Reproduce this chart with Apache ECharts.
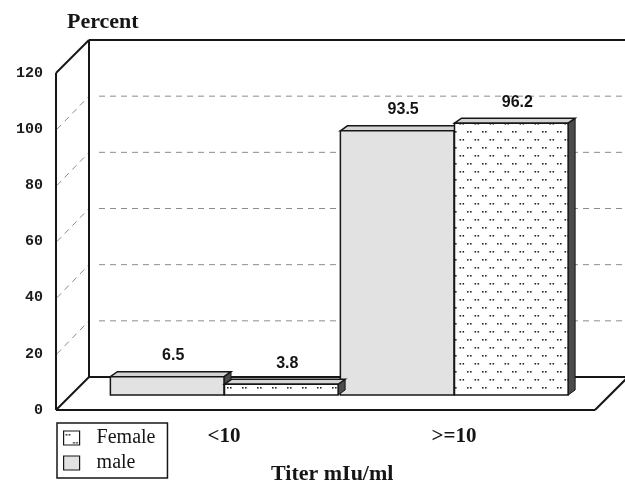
<!DOCTYPE html>
<html>
<head>
<meta charset="utf-8">
<script src="https://cdn.jsdelivr.net/npm/echarts@6/dist/echarts.min.js"></script>
<style>
  html, body { margin: 0; padding: 0; background: #fff; }
  #chart { width: 625px; height: 484px; }
</style>
</head>
<body>
<div id="chart"></div>
<script>
// Titer groups and the share of each sex (percent) in every group
const categories = ['<10', '>=10'];
const maleValues = [6.5, 93.5];
const femaleValues = [3.8, 96.2];
const yTicks = [0, 20, 40, 60, 80, 100, 120];

const yMin = yTicks[0];
const yMax = yTicks[yTicks.length - 1];
const yStep = yTicks[1] - yTicks[0];

// Dotted fill: staggered pairs of small dots
function makeDotPattern() {
  const c = document.createElement('canvas');
  c.width = 15; c.height = 16;
  const g = c.getContext('2d');
  g.fillStyle = '#fff';
  g.fillRect(0, 0, 15, 16);
  g.fillStyle = '#2a2a2a';
  [[2, 3], [5, 3], [9.5, 11], [12.5, 11]].forEach(p => g.fillRect(p[0], p[1], 1.6, 1.6));
  return c;
}
const dotFill = { image: makeDotPattern(), repeat: 'repeat' };
const greyFill = '#e2e2e2';

// Box walls: left wall, back wall, floor, with dashed grid lines
function renderFrame(params, api) {
  const depth = [33, -33];
  const back = p => [p[0] + depth[0], p[1] + depth[1]];
  const fl = api.coord([0, yMin]);
  const tl = api.coord([0, yMax]);
  const fr = api.coord([1, yMin]);
  const solid = { stroke: '#161616', lineWidth: 2, fill: null };
  const dashed = { stroke: '#8c8c8c', lineWidth: 1, lineDash: [6, 5], fill: null };
  const line = (a, b, style) => ({ type: 'line', shape: { x1: a[0], y1: a[1], x2: b[0], y2: b[1] }, style: style });
  const children = [];
  yTicks.slice(1, -1).forEach(v => {
    const f = api.coord([0, v]);
    const b = back(f);
    children.push(line([f[0] + 1, f[1]], b, dashed));
    children.push(line([b[0] + 10, b[1]], [back(fr)[0] + 5, b[1]], dashed));
  });
  children.push(line(fl, tl, solid));
  children.push(line(back(fl), back(tl), solid));
  children.push(line(tl, back(tl), solid));
  children.push(line(fl, back(fl), solid));
  children.push(line(back(tl), [back(fr)[0] + 5, back(tl)[1]], solid));
  children.push(line(back(fl), [back(fr)[0] + 5, back(fl)[1]], solid));
  children.push(line(fl, fr, solid));
  children.push(line(fr, back(fr), solid));
  return { type: 'group', children: children };
}

// Box-shaped bar: side face, top face, front face and value label
function barRenderer(slot, fill) {
  return function (params, api) {
    const cat = api.value(0);
    const val = api.value(1);
    const base = api.coord([cat, 0]);
    const top = api.coord([cat, val]);
    const band = api.size([1, 0])[0];
    const w = band * 0.494;
    const x0 = slot === 0 ? base[0] - w : base[0] + 0.5;
    const x1 = x0 + w;
    const yT = top[1];
    const yB = base[1];
    const dx = 7, dy = -5;
    return {
      type: 'group',
      children: [
        { type: 'polygon', shape: { points: [[x1, yT], [x1 + dx, yT + dy], [x1 + dx, yB + dy], [x1, yB]] },
          style: { fill: '#4b4b4b', stroke: '#161616', lineWidth: 1 } },
        { type: 'polygon', shape: { points: [[x0, yT], [x0 + dx, yT + dy], [x1 + dx, yT + dy], [x1, yT]] },
          style: { fill: '#d4d4d4', stroke: '#161616', lineWidth: 1.5 } },
        { type: 'rect', shape: { x: x0, y: yT, width: w, height: yB - yT },
          style: { fill: fill, stroke: '#161616', lineWidth: 1.5 } },
        { type: 'text',
          style: { text: String(val), x: x0 + w / 2 + 6, y: yT - 13,
                   align: 'center', verticalAlign: 'bottom',
                   textAlign: 'center', textVerticalAlign: 'bottom',
                   font: 'bold 16px "Liberation Sans", Arial, sans-serif', fill: '#141414' } }
      ]
    };
  };
}

const chart = echarts.init(document.getElementById('chart'), null, { renderer: 'canvas' });

chart.setOption({
  animation: false,
  backgroundColor: '#fff',
  title: [
    { text: 'Percent', left: 62, top: 6,
      textStyle: { fontFamily: '"Liberation Serif", "Times New Roman", serif', fontWeight: 'bold', fontSize: 22, color: '#151515' } },
    { text: 'Titer mIu/ml', left: 266, top: 458,
      textStyle: { fontFamily: '"Liberation Serif", "Times New Roman", serif', fontWeight: 'bold', fontSize: 22, color: '#151515' } }
  ],
  legend: {
    data: ['Female', 'male'],
    orient: 'vertical',
    left: 57, top: 423,
    padding: [5, 12, 5, 6],
    itemGap: 5,
    itemWidth: 16, itemHeight: 14,
    icon: 'rect',
    borderColor: '#161616', borderWidth: 1.5, borderRadius: 0,
    itemStyle: { borderColor: '#161616', borderWidth: 1.2 },
    textStyle: { fontFamily: '"Liberation Serif", "Times New Roman", serif', fontSize: 20, color: '#151515', padding: [0, 0, 0, 12] }
  },
  grid: [
    { left: 56, right: 30, top: 73, bottom: 74 },
    { left: 109, right: 56, top: 56, bottom: 89 }
  ],
  xAxis: [
    { type: 'value', gridIndex: 0, min: 0, max: 1, show: false },
    { type: 'category', gridIndex: 1, data: categories,
      axisLine: { show: false }, axisTick: { show: false },
      axisLabel: { margin: 31, fontFamily: '"Liberation Serif", "Times New Roman", serif', fontWeight: 'bold', fontSize: 21, color: '#151515' } }
  ],
  yAxis: [
    { type: 'value', gridIndex: 0, min: yMin, max: yMax, interval: yStep,
      axisLine: { show: false }, axisTick: { show: false }, splitLine: { show: false },
      axisLabel: { margin: 13, fontFamily: '"Liberation Mono", "DejaVu Sans Mono", monospace', fontWeight: 'bold', fontSize: 15, color: '#1c1c1c' } },
    { type: 'value', gridIndex: 1, min: yMin, max: yMax, show: false }
  ],
  series: [
    { type: 'custom', name: 'frame', xAxisIndex: 0, yAxisIndex: 0, silent: true, z: 1,
      data: [[0, 0]], renderItem: renderFrame },
    { type: 'custom', name: 'male', xAxisIndex: 1, yAxisIndex: 1, z: 2,
      itemStyle: { color: greyFill },
      data: categories.map((c, i) => [i, maleValues[i]]),
      renderItem: barRenderer(0, greyFill) },
    { type: 'custom', name: 'Female', xAxisIndex: 1, yAxisIndex: 1, z: 3,
      itemStyle: { color: dotFill },
      data: categories.map((c, i) => [i, femaleValues[i]]),
      renderItem: barRenderer(1, dotFill) }
  ]
});
</script>
</body>
</html>
